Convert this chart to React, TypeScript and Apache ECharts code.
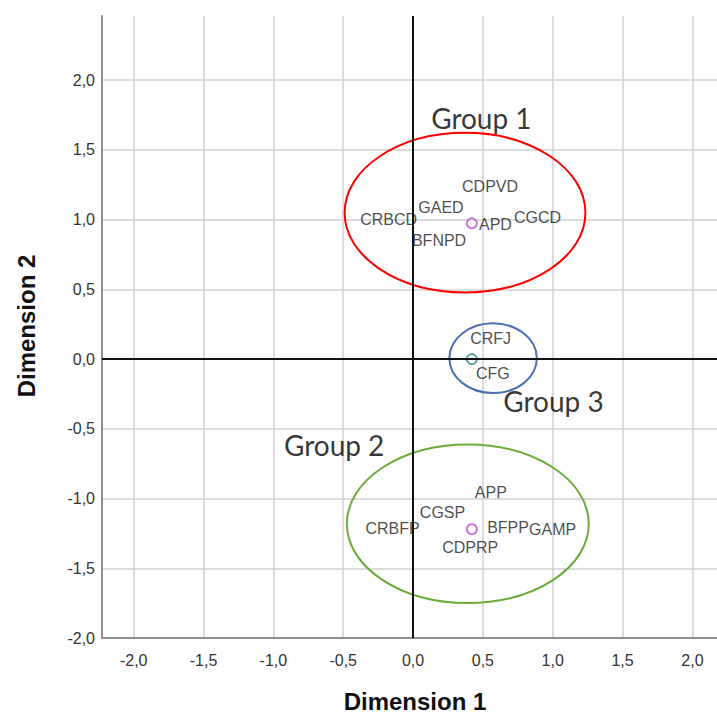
import React, { useEffect, useRef } from 'react';
import * as echarts from 'echarts';

const xTicks = [-2, -1.5, -1, -0.5, 0, 0.5, 1, 1.5, 2];
const yTicks = [-2, -1.5, -1, -0.5, 0, 0.5, 1, 1.5, 2];

const pointNames = ['CDPVD', 'GAED', 'CRBCD', 'APD', 'CGCD', 'BFNPD', 'CRFJ', 'CFG', 'APP', 'CGSP', 'CRBFP', 'BFPP', 'GAMP', 'CDPRP'];
const pointX = [0.551, 0.2, -0.175, 0.59, 0.891, 0.186, 0.555, 0.571, 0.557, 0.211, -0.147, 0.68, 0.999, 0.409];
const pointY = [1.241, 1.086, 1.003, 0.966, 1.014, 0.853, 0.145, -0.106, -0.955, -1.102, -1.217, -1.206, -1.22, -1.353];

const centroidX = [0.421, 0.421, 0.421];
const centroidY = [0.974, 0.0, -1.22];
const centroidColors = ['#b44fd6', '#2e8b87', '#b44fd6'];

const groupNames = ['Group 1', 'Group 2', 'Group 3'];
const groupLabelX = [0.489, -0.565, 1.005];
const groupLabelY = [1.73, -0.619, -0.304];

const ellipseCX = [0.372, 0.392, 0.573];
const ellipseCY = [1.05, -1.181, 0.006];
const ellipseRX = [0.862, 0.866, 0.313];
const ellipseRY = [0.572, 0.568, 0.25];
const ellipseColors = ['#ff0000', '#6aab3a', '#4a6fb5'];

const fmt = (v: number) => v.toFixed(1).replace('.', ',');

export default function App() {
  const ref = useRef<HTMLDivElement>(null);
  useEffect(() => {
    if (!ref.current) return;
    const chart = echarts.init(ref.current, undefined, { renderer: 'svg' });
    const gridLine = { show: true, lineStyle: { color: '#d0d0d0', width: 1.5 } };
    const axisLine = { show: true, onZero: false, lineStyle: { color: '#8f8f8f', width: 2 } };
    const labelStyle = { color: '#333', fontFamily: 'Liberation Sans', fontSize: 16 };
    chart.setOption({
      animation: false,
      backgroundColor: '#fff',
      grid: { left: 102, top: 16, right: 0, bottom: 77, containLabel: false },
      xAxis: {
        type: 'value', min: -2.227, max: 2.176,
        axisLine, splitLine: gridLine,
        axisTick: { show: false, customValues: xTicks },
        axisLabel: { ...labelStyle, customValues: xTicks, formatter: fmt, margin: 14 },
      },
      yAxis: {
        type: 'value', min: -2, max: 2.46,
        axisLine, splitLine: gridLine,
        axisTick: { show: false, customValues: yTicks },
        axisLabel: { ...labelStyle, customValues: yTicks, formatter: fmt, margin: 7 },
      },
      graphic: [
        { type: 'text', x: 415, y: 701, style: { text: 'Dimension 1', fontFamily: 'Liberation Sans', fontWeight: 'bold', fontSize: 24, fill: '#111', textAlign: 'center', textVerticalAlign: 'middle' } },
        { type: 'text', x: 26, y: 326, rotation: Math.PI / 2, style: { text: 'Dimension 2', fontFamily: 'Liberation Sans', fontWeight: 'bold', fontSize: 24, fill: '#111', textAlign: 'center', textVerticalAlign: 'middle' } },
      ],
      series: [
        {
          type: 'scatter', symbolSize: 0, silent: true, z: 2,
          data: [],
          markLine: {
            silent: true, symbol: 'none', label: { show: false },
            lineStyle: { color: '#111', width: 2, type: 'solid' },
            data: [{ xAxis: 0 }, { yAxis: 0 }],
          },
        },
        {
          type: 'custom', z: 3, silent: true,
          data: ellipseCX.map((cx, i) => [cx, ellipseCY[i], ellipseRX[i], ellipseRY[i]]),
          encode: { x: 0, y: 1 },
          renderItem: (params: any, api: any) => {
            const c = api.coord([api.value(0), api.value(1)]);
            const s = api.size([api.value(2), api.value(3)]);
            return {
              type: 'ellipse',
              shape: { cx: c[0], cy: c[1], rx: s[0], ry: s[1] },
              style: { fill: 'none', stroke: ellipseColors[params.dataIndex], lineWidth: 2 },
            };
          },
        },
        {
          type: 'scatter', z: 4, silent: true, symbol: 'circle', symbolSize: 10,
          data: centroidX.map((x, i) => ({
            value: [x, centroidY[i]],
            itemStyle: { color: 'rgba(0,0,0,0)', borderColor: centroidColors[i], borderWidth: 1.8 },
          })),
        },
        {
          type: 'scatter', z: 5, silent: true, symbolSize: 0,
          data: pointNames.map((n, i) => ({ name: n, value: [pointX[i], pointY[i]] })),
          label: { show: true, position: 'inside', formatter: '{b}', color: '#1c1c1c', fontFamily: 'Liberation Sans', fontSize: 16 },
        },
        {
          type: 'scatter', z: 5, silent: true, symbolSize: 0,
          data: groupNames.map((n, i) => ({ name: n, value: [groupLabelX[i], groupLabelY[i]] })),
          label: { show: true, position: 'inside', formatter: '{b}', color: '#000', fontFamily: 'Lato', fontSize: 28 },
        },
      ],
    });
    return () => chart.dispose();
  }, []);
  return (
    <div
      ref={ref}
      style={{ position: 'absolute', left: 0, top: 0, width: 717, height: 715, background: '#fff' }}
    />
  );
}
